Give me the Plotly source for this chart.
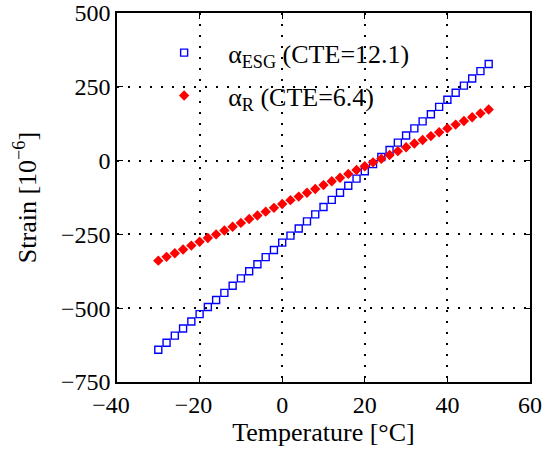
import plotly.graph_objects as go

temperature = [-30, -28, -26, -24, -22, -20, -18, -16, -14, -12, -10, -8, -6, -4, -2,
               0, 2, 4, 6, 8, 10, 12, 14, 16, 18, 20, 22, 24, 26, 28,
               30, 32, 34, 36, 38, 40, 42, 44, 46, 48, 50]
strain_esg = [-641, -617, -593, -569, -545, -520, -496, -472, -448, -424, -399, -375, -351, -327, -303,
              -278, -254, -230, -206, -182, -157, -133, -109, -85, -61, -36, -12, 12, 36, 61,
              85, 109, 133, 157, 182, 206, 230, 254, 278, 303, 327]
strain_r = [-339, -326, -314, -301, -288, -275, -262, -250, -237, -224, -211, -198, -186, -173, -160,
            -147, -134, -122, -109, -96, -83, -70, -58, -45, -32, -19, -6, 6, 19, 32,
            45, 58, 70, 83, 96, 109, 122, 134, 147, 160, 173]

x_ticks = [-40, -20, 0, 20, 40, 60]
x_ticktext = ["−40\u2002", "−20\u2002", "0", "20", "40", "60"]
y_ticks = [-750, -500, -250, 0, 250, 500]
y_ticktext = ["−750", "−500", "−250", "0", "250", "500"]

name_esg = "α<sub>ESG</sub> (CTE=12.1)"
name_r = "α<sub>R</sub> (CTE=6.4)"

FONT = "Liberation Serif"

fig = go.Figure()
fig.add_trace(go.Scatter(
    x=temperature, y=strain_esg, mode="markers", name=name_esg, legendgroup="a",
    marker=dict(symbol="square-open", size=7, color="#0000FF", line=dict(width=1.4, color="#0000FF")),
))
fig.add_trace(go.Scatter(
    x=temperature, y=strain_r, mode="markers", name=name_r, legendgroup="b",
    marker=dict(symbol="diamond", size=8, color="#FF0000", line=dict(width=0)),
))

axis_common = dict(
    showline=True, linecolor="black", linewidth=1.5, mirror="ticks",
    ticks="inside", ticklen=6, tickcolor="black", tickwidth=1,
    showgrid=True, gridcolor="#000000", gridwidth=1.5, griddash="2px,9px",
    zeroline=False, automargin=False,
    tickfont=dict(family=FONT, size=24, color="black"),
)

fig.update_xaxes(range=[-40, 60], tickvals=x_ticks, ticktext=x_ticktext,
                 title=dict(text="Temperature [°C]", font=dict(family=FONT, size=26, color="black"), standoff=4),
                 **axis_common)
fig.update_yaxes(range=[-750, 500], tickvals=y_ticks, ticktext=y_ticktext,
                 title=dict(text="Strain [10<sup>−6</sup>]", font=dict(family=FONT, size=26, color="black"), standoff=17),
                 **axis_common)

fig.update_layout(
    width=545, height=454,
    margin=dict(l=117, r=15, t=13, b=72),
    paper_bgcolor="white", plot_bgcolor="white",
    font=dict(family=FONT, size=24, color="black"),
    showlegend=True,
    legend=dict(x=0.056, y=0.956, xanchor="left", yanchor="top",
                bgcolor="rgba(255,255,255,0)", borderwidth=0,
                traceorder="grouped", tracegroupgap=6, itemwidth=78,
                font=dict(family=FONT, size=26, color="black")),
)

fig.write_html("out.html")
